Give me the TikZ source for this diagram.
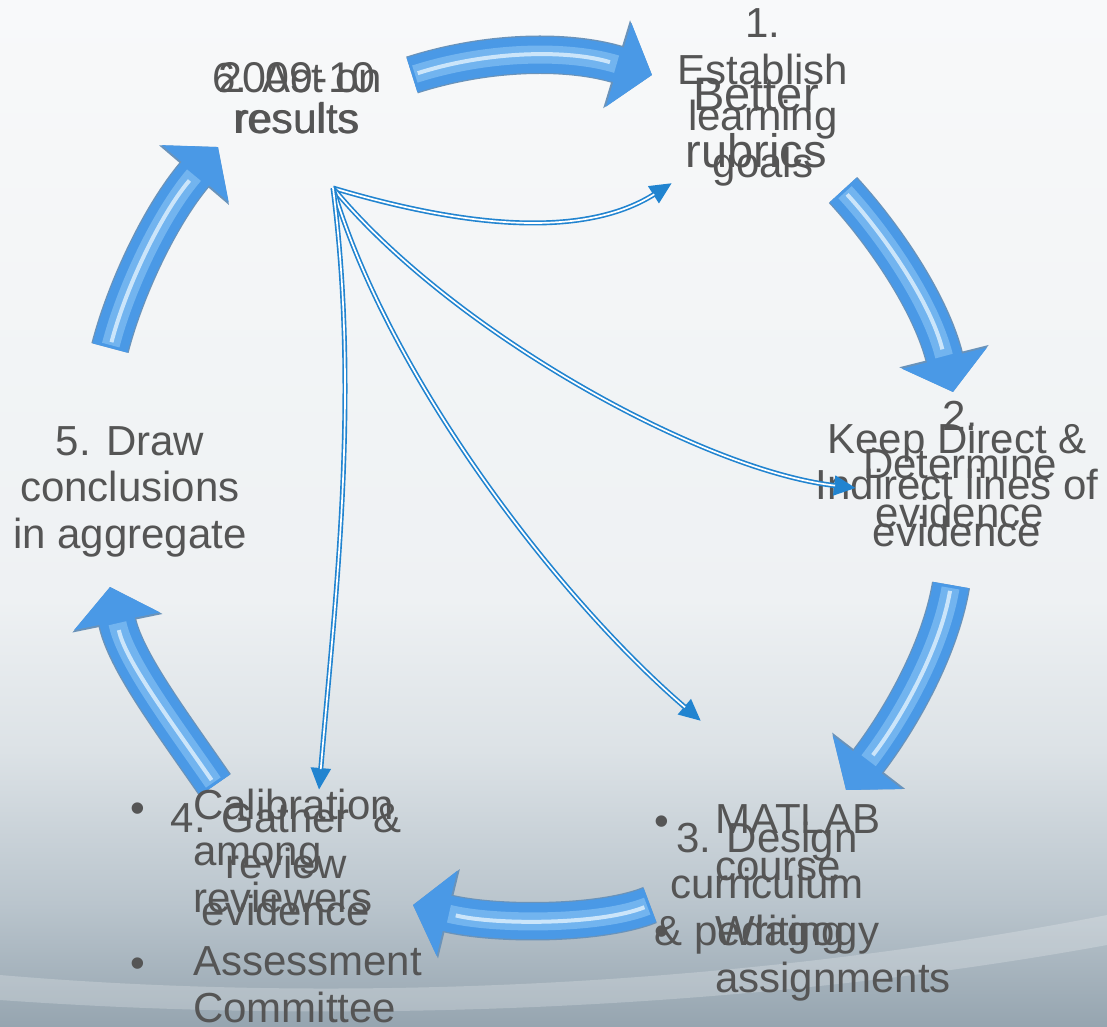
\documentclass[tikz,border=0pt]{standalone}
\usepackage{fontspec}
\setmainfont{Liberation Sans}
\usetikzlibrary{arrows.meta}
\definecolor{txt}{HTML}{555555}
\definecolor{bgA}{HTML}{96A5B0}
\definecolor{bgB}{HTML}{BAC5CD}
\definecolor{bgC}{HTML}{DCE2E6}
\definecolor{bgD}{HTML}{EEF1F3}
\definecolor{bgE}{HTML}{F8F9FA}
\definecolor{aedge}{HTML}{6A93BA}
\definecolor{abody}{HTML}{4A99E6}
\definecolor{ainner}{HTML}{72B4EF}
\definecolor{ahigh}{HTML}{E2F2FD}
\definecolor{conncol}{HTML}{2184D0}
\pgfdeclareverticalshading{bgshade}{100bp}{color(0bp)=(bgA); color(25bp)=(bgA); color(31bp)=(bgB); color(38.4bp)=(bgC); color(45.8bp)=(bgD); color(75bp)=(bgE); color(100bp)=(bgE)}
\begin{document}
\begin{tikzpicture}[x=1pt,y=-1pt,
  lbl/.style={text=txt, inner sep=0pt, align=center, font=\fontsize{42}{46.5}\selectfont},
  bul/.style={text=txt, inner sep=0pt, font=\fontsize{42}{46.5}\selectfont, anchor=base},
  bigarrow/.style={line width=36pt, draw=abody, -{Triangle[length=35pt,width=86pt]},
    preaction={draw=aedge, line width=38.5pt, -{Triangle[length=37pt,width=90pt]}},
    postaction={draw=ainner, line width=18pt, shorten >=37pt, shorten <=3pt, -},
    postaction={draw=ahigh, line width=4pt, shorten >=44pt, shorten <=6pt, -, opacity=.8}},
  conn/.style={draw=conncol, line width=5pt, -{Triangle[length=22pt,width=19pt]},
    postaction={draw=white, line width=1.7pt, shorten >=21pt, -}}]
\useasboundingbox (0,0) rectangle (1107,1026);
\shade[shading=bgshade] (0,0) rectangle (1107,1026);
% light swoosh near the bottom
\fill[white, opacity=.22] (0,975) .. controls (350,1005) and (750,985) .. (1107,915)
  -- (1107,945) .. controls (750,1010) and (350,1025) .. (0,1000) -- cycle;

% cycle arrows
\draw[bigarrow] (412,75) .. controls (490,50) and (570,50) .. (652,75);
\draw[bigarrow] (843,190) .. controls (880,230) and (930,300) .. (953,392);
\draw[bigarrow] (951,585) .. controls (940,650) and (900,720) .. (846,790);
\draw[bigarrow] (650,905) .. controls (600,925) and (495,925) .. (413,905);
\draw[bigarrow] (215,785) .. controls (170,720) and (125,660) .. (110,587);
\draw[bigarrow] (110,348) .. controls (125,290) and (160,215) .. (218,147);

% texts (anchor base = baseline of the last line)
\node[lbl, anchor=base, font=\fontsize{42}{41}\selectfont] (act) at (297,133) {6. Act on\\results};
\node[lbl, anchor=base, font=\fontsize{43}{41}\selectfont] (yr) at (297,133) {2009-10\\results};
\node[lbl, anchor=base] (s1) at (763,177) {1.\\Establish\\learning\\goals};
\node[lbl, anchor=base, font=\fontsize{47}{57}\selectfont] (rub) at (756,167) {Better\\rubrics};
\node[lbl, anchor=base, font=\fontsize{42}{48.5}\selectfont] (s2) at (960,527) {2.\\Determine\\evidence};
\node[lbl, anchor=base] (keep) at (957,546) {Keep Direct \&\\Indirect lines of\\evidence};
\node[lbl, anchor=base] (s3) at (767,945) {3. Design\\curriculum\\\& pedagogy};
\node[lbl, anchor=base] (s4) at (286,925) {4. Gather\ \ \&\\review\\evidence};
\node[lbl, anchor=base] (s5) at (130,548) {5. Draw\\conclusions\\in aggregate};

\node[bul] (m1) at (662,835) {\textbullet};
\node[lbl, anchor=base west, align=left] (mat) at (715,880) {MATLAB\\course};
\node[bul] (m2) at (662,945) {\textbullet};
\node[lbl, anchor=base west, align=left] (wri) at (715,992) {Writing\\assignments};
\node[bul] (c1) at (138,822) {\textbullet};
\node[lbl, anchor=base west, align=left] (cal) at (193,912) {Calibration\\among\\reviewers};
\node[bul] (c2) at (138,977) {\textbullet};
\node[lbl, anchor=base west, align=left] (ass) at (193,1022) {Assessment\\Committee};

% connectors from the results hub
\coordinate (hub) at (333,188);
\coordinate (t1) at (672,183);
\coordinate (t2) at (856,488);
\coordinate (t3) at (701,721);
\coordinate (t4) at (319,790);
\draw[conn] (hub) .. controls (480,232) and (590,235) .. (t1);
\draw[conn] (hub) .. controls (450,330) and (700,470) .. (t2);
\draw[conn] (hub) .. controls (390,380) and (560,600) .. (t3);
\draw[conn] (hub) .. controls (360,400) and (335,600) .. (t4);
\end{tikzpicture}
\end{document}
